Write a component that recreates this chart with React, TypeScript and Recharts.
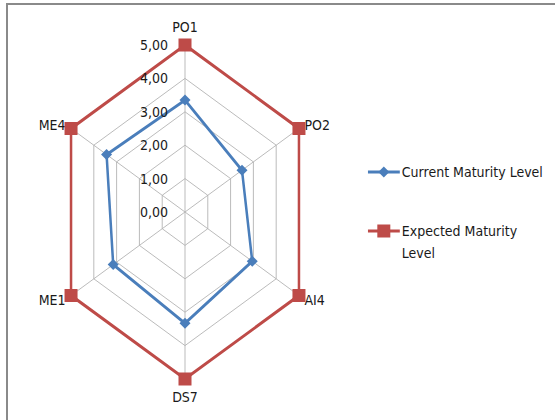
import { RadarChart, Radar, PolarGrid, PolarAngleAxis, PolarRadiusAxis, Legend } from 'recharts';

// COBIT processes and maturity levels
const processes = ['PO1', 'PO2', 'AI4', 'DS7', 'ME1', 'ME4'];
const currentLevel = [3.35, 2.5, 2.95, 3.33, 3.15, 3.44];
const expectedLevel = [5, 5, 5, 5, 5, 5];

const data = processes.map((p, i) => ({ process: p, current: currentLevel[i], expected: expectedLevel[i] }));

// the excel chart is squashed horizontally
const SX = 0.788;
const CX = 185;
const CY = 212;
const BLUE = '#4A7EBB';
const RED = '#BE4B48';
const FONT = "'Liberation Sans Narrow', 'DejaVu Sans Condensed', 'Noto Sans', sans-serif";

function AngleTick(props: any) {
    const { x, y, payload, textAnchor } = props;
    let dy = 0;
    if (textAnchor === 'middle') dy = y < CY ? -10 : 10;
    return (
        <g transform={`translate(${x},${y + dy}) scale(${1 / SX},1)`}>
            <text textAnchor={textAnchor} dominantBaseline="central" fontSize={14} fill="#1a1a1a" fontFamily={FONT}>
                {payload.value}
            </text>
        </g>
    );
}

function RadiusTick(props: any) {
    const { x, y, payload } = props;
    return (
        <g transform={`translate(${x},${y}) scale(${1 / SX},1)`}>
            <text x={-17} textAnchor="end" dominantBaseline="central" fontSize={14} fill="#1a1a1a" fontFamily={FONT}>
                {Number(payload.value).toFixed(2).replace('.', ',')}
            </text>
        </g>
    );
}

const Diamond = (props: any) => (
    <g key={`d${props.index}`} transform={`translate(${props.cx},${props.cy}) scale(${1 / SX},1)`}>
        <path d="M0,-5.5L5.5,0L0,5.5L-5.5,0Z" fill={BLUE} />
    </g>
);

const Square = (props: any) => (
    <g key={`s${props.index}`} transform={`translate(${props.cx},${props.cy}) scale(${1 / SX},1)`}>
        <rect x={-6.5} y={-6.5} width={13} height={13} fill={RED} />
    </g>
);

function LegendContent(props: any) {
    const { payload = [] } = props;
    return (
        <div style={{ transform: `scaleX(${1 / SX})`, transformOrigin: '0 0', fontFamily: FONT, fontSize: 14, color: '#1a1a1a' }}>
            {payload.map((e: any, i: number) => (
                <div key={i} style={{ display: 'flex', alignItems: 'flex-start', marginBottom: 37 }}>
                    <svg width={34} height={22} style={{ flex: 'none' }}>
                        <line x1={0} y1={11} x2={32} y2={11} stroke={e.color} strokeWidth={3} />
                        {e.dataKey === 'current'
                            ? <path d="M16,5.5L21.5,11L16,16.5L10.5,11Z" fill={e.color} />
                            : <rect x={9.5} y={4.5} width={13} height={13} fill={e.color} />}
                    </svg>
                    <span style={{ width: 145, lineHeight: '22px' }}>{e.value}</span>
                </div>
            ))}
        </div>
    );
}

export default function App() {
    return (
        <div style={{ position: 'absolute', left: 0, top: 0, width: 555, height: 420, background: '#fff', overflow: 'hidden' }}>
            <div style={{ position: 'absolute', left: 6, top: 3, width: 600, height: 500, borderTop: '2px solid #8a8a8a', borderLeft: '2px solid #8a8a8a' }} />
            <div style={{ position: 'absolute', left: 0, top: 0, width: 555, height: 420, transform: `scaleX(${SX})`, transformOrigin: `${CX}px ${CY}px` }}>
                <RadarChart width={555} height={420} data={data} cx={CX} cy={CY} outerRadius={167} margin={{ top: 0, right: 0, bottom: 0, left: 0 }}>
                    <PolarGrid gridType="polygon" stroke="#b3b3b3" />
                    <PolarAngleAxis dataKey="process" tick={AngleTick} tickLine={false} axisLine={false} />
                    <PolarRadiusAxis angle={90} domain={[0, 5]} tickCount={6} tick={RadiusTick} axisLine={false} tickLine={false} />
                    <Radar dataKey="current" name="Current Maturity Level" stroke={BLUE} strokeWidth={3.2} fill="none" fillOpacity={0} dot={Diamond} isAnimationActive={false} />
                    <Radar dataKey="expected" name="Expected Maturity Level" stroke={RED} strokeWidth={3.2} fill="none" fillOpacity={0} dot={Square} isAnimationActive={false} />
                    <Legend layout="vertical" content={LegendContent} wrapperStyle={{ left: 417, top: 161, width: 200 }} />
                </RadarChart>
            </div>
        </div>
    );
}
